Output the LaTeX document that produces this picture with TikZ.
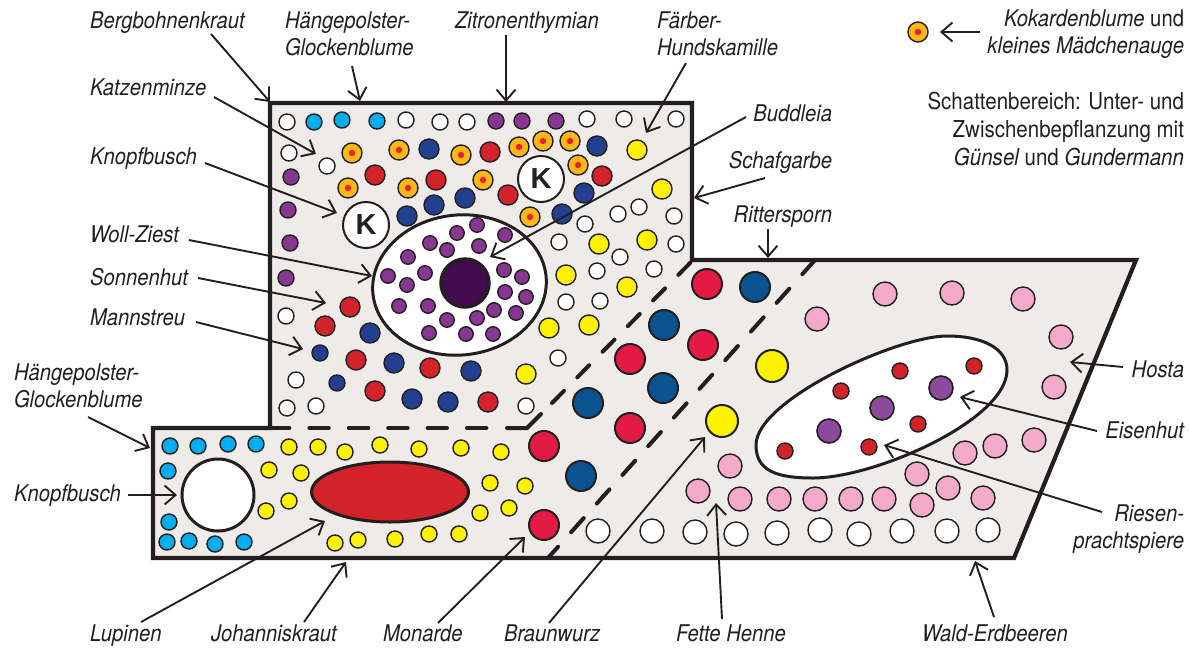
\documentclass[tikz,border=0pt]{standalone}
\usepackage{fontspec}
\setmainfont[FakeStretch=0.88]{TeX Gyre Heros}
\newfontfamily\kfont{Liberation Sans}
\usetikzlibrary{arrows.meta,shapes.geometric}
\definecolor{bed}{HTML}{EEEBE8}
\definecolor{ink}{HTML}{231F20}
\definecolor{cCyan}{HTML}{00AEEF}
\definecolor{cOrange}{HTML}{FDB913}
\definecolor{cDot}{HTML}{ED1C3A}
\definecolor{cRed}{HTML}{D2232A}
\definecolor{cBlue}{HTML}{233F8F}
\definecolor{cPurple}{HTML}{873792}
\definecolor{cPurpleB}{HTML}{8B4A9C}
\definecolor{cYellow}{HTML}{FFF200}
\definecolor{cBigRed}{HTML}{E31B44}
\definecolor{cBigBlue}{HTML}{0B5390}
\definecolor{cPink}{HTML}{F4AACB}
\definecolor{cDark}{HTML}{430A4F}
\tikzset{
  plant/.style={circle,draw=ink,line width=1.4pt,inner sep=0pt,outer sep=0pt},
  ws/.style={plant,fill=white,minimum size=16pt},
  cy/.style={plant,fill=cCyan,minimum size=16pt},
  pu/.style={plant,fill=cPurple,minimum size=16pt},
  pus/.style={plant,fill=cPurple,minimum size=14.5pt},
  re/.style={plant,fill=cRed,minimum size=20pt},
  bl/.style={plant,fill=cBlue,minimum size=20pt},
  blsm/.style={plant,fill=cBlue,minimum size=16pt},
  ye/.style={plant,fill=cYellow,minimum size=20pt},
  yesm/.style={plant,fill=cYellow,minimum size=16pt},
  rdsm/.style={plant,fill=cRed,minimum size=16pt},
  pi/.style={plant,fill=cPink,minimum size=24pt},
  wl/.style={plant,fill=white,minimum size=24pt},
  pub/.style={plant,fill=cPurpleB,minimum size=24pt,line width=1.6pt},
  bigr/.style={plant,fill=cBigRed,minimum size=30pt,line width=2pt},
  bigb/.style={plant,fill=cBigBlue,minimum size=30pt,line width=2pt},
  bigy/.style={plant,fill=cYellow,minimum size=32pt,line width=2pt},
  kok/.style={plant,fill=cOrange,minimum size=20pt,path picture={\fill[cDot] (path picture bounding box.center) circle (3.2pt);}},
  kbusch/.style={plant,fill=white,minimum size=46pt,line width=2pt,font=\kfont\fontsize{29}{29}\selectfont\bfseries,text=ink},
  lbl/.style={inner sep=0pt,outer sep=0pt,text=ink,font=\fontsize{23}{27}\selectfont\itshape},
  lbln/.style={inner sep=0pt,outer sep=0pt,text=ink,font=\fontsize{23.3}{28}\selectfont},
  arr/.style={draw=ink,line width=1.9pt,-{Straight Barb[length=11pt,width=19pt,line width=1.9pt]}},
  dashh/.style={draw=ink,line width=4pt,line cap=round,dash pattern=on 19.4pt off 20pt},
  dashd/.style={draw=ink,line width=4pt,line cap=round,dash pattern=on 17pt off 19pt},
  dashs/.style={draw=ink,line width=4pt,line cap=round,dash pattern=on 19pt off 19.5pt},
  solidd/.style={draw=ink,line width=4pt,line cap=round},
  outline/.style={draw=ink,line width=4.2pt,line join=miter},
  bigell/.style={ellipse,draw=ink,inner sep=0pt,outer sep=0pt},
}
\begin{document}
\begin{tikzpicture}[x=1pt,y=-1pt]
\useasboundingbox (0,0) rectangle (1189,649);
% bed
\fill[bed] (270,103) -- (692,103) -- (692,260) -- (1136,260) -- (1014,558) -- (153,558) -- (153,428) -- (270,428) -- cycle;
% large shapes
\node[bigell,fill=white,line width=3pt,minimum width=174pt,minimum height=140pt,rotate=6] (zest) at (459.5,285) {};
\draw[draw=ink,fill=white,line width=3pt] (756,445) .. controls (756,400) and (897,336) .. (947,336)
  .. controls (982,336) and (1007,348) .. (1007,370)
  .. controls (1007,420) and (875,478) .. (813,478)
  .. controls (775,478) and (756,470) .. (756,445) -- cycle;
\node[bigell,fill=cRed,line width=3pt,minimum width=157pt,minimum height=60pt] (lup) at (390,492) {};
\node[plant,fill=white,line width=3pt,minimum size=72pt] (kb3) at (218,495) {};
\node[plant,fill=cDark,line width=3.5pt,minimum size=48pt] (dark) at (465,283) {};
\node[kbusch] (k1) at (541,179) {K};
\node[kbusch] (k2) at (366,225) {K};
% small plants
\foreach \x/\y [count=\i] in {287/122,406/120,440/122,467/122,587/119,624/119,676/119,289/153,327/166,618/214,639/207,674/216,585/224,559/242,676/244,620/257,597/271,654/269,566/302,600/301,558/358,286/316,296/380,287/408,316/406,526/406}
  \node[ws] (w\i) at (\x,\y) {};
\foreach \x/\y [count=\i] in {314/122,342/120,377/121,170/446,198/446,228/444,256/444,168/471,169/522,167/542,189/541,215/544,244/542}
  \node[cy] (c\i) at (\x,\y) {};
\foreach \x/\y [count=\i] in {496/121,522/121,556/121,291/177,288/210,290/243,286/278}
  \node[pu] (p\i) at (\x,\y) {};
\foreach \x/\y [count=\i] in {477/225,457/233,505/235,430/243,447/250,479/246,408/257,388/276,425/273,407/285,504/270,522/277,505/292,526/297,399/306,428/306,494/310,516/313,447/320,477/318,429/333,466/334,493/334}
  \node[pus] (q\i) at (\x,\y) {};
\foreach \x/\y [count=\i] in {352/153,399/150,461/155,519/147,543/141,570/141,348/188,408/188,483/180,578/165,530/217}
  \node[kok] (o\i) at (\x,\y) {};
\foreach \x/\y [count=\i] in {490/152,375/175,436/180,602/176,508/195,350/307,325/326,356/360,430/368,375/391,488/402}
  \node[re] (r\i) at (\x,\y) {};
\foreach \x/\y [count=\i] in {429/149,597/146,584/193,407/216,434/205,465/198,562/214,370/333,394/363,471/371,412/399,448/402}
  \node[bl] (b\i) at (\x,\y) {};
\foreach \x/\y [count=\i] in {320/353,337/383}
  \node[blsm] (bs\i) at (\x,\y) {};
\foreach \x/\y [count=\i] in {637/150,662/189,599/244,647/240,566/275,627/287,549/328,589/325,526/374}
  \node[ye] (y\i) at (\x,\y) {};
\foreach \x/\y [count=\i] in {289/447,318/447,345/452,380/445,419/449,461/448,501/452,269/470,301/473,289/501,266/511,490/483,525/486,480/513,509/508,335/543,358/540,395/539,429/534,459/534}
  \node[yesm] (ys\i) at (\x,\y) {};
\foreach \x/\y [count=\i] in {707/284,630/359,630/428,703/345,544/446,544/525}
  \node[bigr] (br\i) at (\x,\y) {};
\foreach \x/\y [count=\i] in {755/287,664/325,663/388,588/403,581/476}
  \node[bigb] (bb\i) at (\x,\y) {};
\foreach \x/\y [count=\i] in {772/366,722/421}
  \node[bigy] (by\i) at (\x,\y) {};
\foreach \x/\y [count=\i] in {817/319,885/294,952/293,1023/299,1061/337,1054/387,1034/440,995/446,965/453,917/474,948/488,983/498,922/505,884/499,851/499,815/499,779/499,740/499,698/491,730/466}
  \node[pi] (f\i) at (\x,\y) {};
\foreach \x/\y [count=\i] in {598/531,652/531,695/532,736/534,777/533,820/530,859/534,902/531,947/531,988/530}
  \node[wl] (e\i) at (\x,\y) {};
\foreach \x/\y [count=\i] in {900/371,974/366,841/391,918/424,869/447,785/451}
  \node[rdsm] (d\i) at (\x,\y) {};
\foreach \x/\y [count=\i] in {941/388,882/408,829/431}
  \node[pub] (h\i) at (\x,\y) {};
\node[kok] (legend) at (918,32) {};
% dashed zone borders
\coordinate (da) at (270,428);
\coordinate (daa) at (492,428);
\coordinate (dab) at (507,428);
\coordinate (db) at (527,428);
\coordinate (dbb) at (541,414);
\coordinate (dbc) at (552,403);
\coordinate (dc) at (693,260);
\coordinate (dd) at (815,260);
\coordinate (de) at (548,558);
\draw[dashh] (da) -- (daa);
\draw[solidd] (dab) -- (db) -- (dbb);
\draw[dashd] (dbc) -- (dc);
\draw[dashs] (dd) -- (de);
% outline
\draw[outline] (270,103) -- (692,103) -- (692,260) -- (1136,260) -- (1014,558) -- (153,558) -- (153,428) -- (270,428) -- cycle;
% labels
\node[lbl,anchor=base west] (tBerg) at (90,28) {Bergbohnenkraut};
\node[lbl,anchor=west,align=left] (tHang) at (285,34) {Hängepolster-\\Glockenblume};
\node[lbl,anchor=base west] (tZit) at (455,28) {Zitronenthymian};
\node[lbl,anchor=west,align=left] (tFarb) at (657,34) {Färber-\\Hundskamille};
\node[lbl,anchor=base west] (tKatz) at (90,95) {Katzenminze};
\node[lbl,anchor=base west] (tKnopf) at (90,164) {Knopfbusch};
\node[lbl,anchor=base east] (tBudd) at (832,121) {Buddleia};
\node[lbl,anchor=base east] (tSchaf) at (832,168) {Schafgarbe};
\node[lbl,anchor=base east] (tRitt) at (832,222) {Rittersporn};
\node[lbl,anchor=base west] (tWoll) at (90,242) {Woll-Ziest};
\node[lbl,anchor=base west] (tSonn) at (90,285) {Sonnenhut};
\node[lbl,anchor=base west] (tMann) at (90,325) {Mannstreu};
\node[lbl,anchor=west,align=left] (tHang2) at (14,386) {Hängepolster-\\Glockenblume};
\node[lbl,anchor=base west] (tKnopf2) at (14,501) {Knopfbusch};
\node[lbl,anchor=base east] (tHosta) at (1184,377) {Hosta};
\node[lbl,anchor=base east] (tEis) at (1184,438) {Eisenhut};
\node[lbl,anchor=east,align=right] (tRies) at (1184,529) {Riesen-\\prachtspiere};
\node[lbl,anchor=base west] (tLup) at (90,641) {Lupinen};
\node[lbl,anchor=base west] (tJoh) at (211,641) {Johanniskraut};
\node[lbl,anchor=base west] (tMon) at (383,641) {Monarde};
\node[lbl,anchor=base west] (tBraun) at (504,641) {Braunwurz};
\node[lbl,anchor=base west] (tFett) at (676,641) {Fette Henne};
\node[lbl,anchor=base west] (tWald) at (922,641) {Wald-Erdbeeren};
\node[lbl,anchor=east,align=right] (tKok) at (1184,34) {Kokardenblume {\upshape und}\\kleines Mädchenauge};
\node[lbln,anchor=east,align=right] (tSchatt) at (1184,129) {Schattenbereich: Unter- und\\Zwischenbepflanzung mit\\{\itshape Günsel} und {\itshape Gundermann}};
% connector ends
\foreach \n/\sx/\sy/\ex/\ey in {
  Berg/211/34/270/102, Hang/352/66/360/101, Zit/506/35/506/102, Farb/686/63/646/133,
  Katz/214/97/316/154, Knopf/205/163/337/213, Budd/746/117/490/257, Schaf/765/178/694/198,
  Ritt/768/229/768/258, Woll/189/240/372/276, Sonn/198/278/326/303, Mann/196/322/303/349,
  Hangb/88/417/150/448, Knopfb/128/495/177/495, Lup/141/622/325/521, Joh/304/622/346/562,
  Mon/438/623/525/537, Braun/549/623/705/437, Fett/722/619/716/503, Wald/994/617/975/561,
  Hosta/1123/367/1070/362, Eis/1097/431/960/397, Ries/1102/512/884/445, Leg/980/32/940/32}
{
  \coordinate (s\n) at (\sx,\sy);
  \coordinate (t\n End) at (\ex,\ey);
  \draw[arr] (s\n) -- (t\n End);
}
\end{tikzpicture}
\end{document}
